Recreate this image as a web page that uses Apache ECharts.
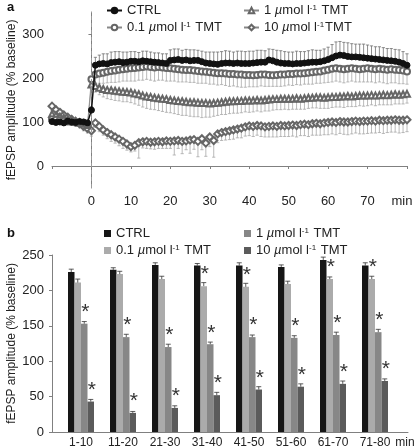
<!DOCTYPE html>
<html><head><meta charset="utf-8">
<script src="https://cdn.jsdelivr.net/npm/echarts@6/dist/echarts.min.js"></script>
<style>html,body{margin:0;padding:0;background:#fff}#c{width:416px;height:448px}</style>
</head><body><div id="c"></div>
<script>
// ---------- Panel a data (time course, 1-min samples from -10 to 80 min) ----------
const seriesNamesA = ['CTRL', '0.1 µmol l⁻¹ TMT', '1 µmol l⁻¹ TMT', '10 µmol l⁻¹TMT'];
const startMinute = -10;
const ctrlVals = [101,99,100,98,102,100,99,101,100,98, 127,
  229,232,233,232,235,236,237,235,236,238,
  238,237,239,238,237,236,235,234,233,240,
  241,242,240,241,239,240,240,237,234,233,
  232,231,233,234,234,233,234,233,233,233,
  234,235,236,236,241,239,236,234,233,233,
  232,233,233,234,235,236,236,237,239,242,
  246,250,252,251,249,248,248,247,246,245,
  244,243,242,241,240,239,238,236,233,229];
const ctrlErr = [6,5,6,5,6,5,6,5,6,6, 8,
  18,20,22,23,24,24,23,24,23,22,
  22,21,22,23,22,21,22,21,22,24,
  25,24,23,24,25,24,23,24,25,26,
  27,28,27,28,27,26,27,28,27,28,
  27,28,27,26,25,26,27,28,27,26,
  27,28,27,26,27,28,27,26,27,28,
  30,32,31,30,31,30,29,30,31,30,
  29,28,29,28,27,28,27,28,27,26];
const tmt01Vals = [106,105,104,103,101,100,99,98,97,95, 197,
  208,210,212,214,216,217,219,220,221,222,
  223,224,225,226,225,224,225,224,223,222,
  221,220,219,218,218,217,216,215,214,213,
  212,211,211,210,209,209,208,208,207,207,
  206,207,208,208,207,206,207,208,208,209,
  209,210,210,211,212,213,214,215,217,219,
  221,222,221,220,221,222,221,220,221,222,
  221,220,221,220,219,220,219,218,217,215];
const tmt01Err = [6,7,6,7,6,7,6,7,6,7, 10,
  20,22,24,25,26,27,28,27,28,29,
  30,29,30,29,30,31,30,29,30,29,
  28,29,28,27,28,27,28,27,26,27,
  26,27,26,27,28,27,28,29,28,27,
  26,27,26,27,26,25,26,27,26,25,
  26,25,26,25,26,27,26,27,28,29,
  30,29,30,31,30,29,30,29,30,31,
  30,31,30,31,32,31,30,31,30,29];
const tmt1Vals = [118,115,112,110,107,105,102,99,96,93, 185,
  182,178,175,173,172,171,170,169,168,167,
  165,163,160,158,157,155,154,153,152,150,
  149,148,147,146,145,145,144,143,143,142,
  143,144,145,146,147,147,148,148,149,149,
  149,150,149,150,151,152,152,153,153,153,
  153,154,153,154,155,155,156,156,155,156,
  157,157,158,158,159,158,159,160,160,160,
  161,160,161,162,161,162,163,162,163,164];
const tmt1Err = [8,7,8,7,8,7,8,7,8,8, 10,
  14,16,18,20,21,22,22,23,22,23,
  24,25,26,27,28,27,28,29,30,29,
  30,31,32,31,32,33,32,33,32,31,
  30,29,28,29,28,27,28,27,26,27,
  26,25,26,25,26,25,24,25,24,25,
  24,25,24,25,24,23,24,25,24,25,
  24,23,24,25,24,23,24,23,24,23,
  22,23,22,23,22,23,22,21,22,21];
const tmt10Vals = [136,128,122,116,111,106,101,96,90,85, 80,
  98,90,82,76,71,66,61,56,50,44,
  47,53,55,56,54,55,56,55,57,56,
  57,58,56,57,59,60,56,62,52,66,
  58,73,76,78,80,82,84,86,89,91,
  90,92,91,89,90,91,90,92,91,92,
  93,92,94,95,94,96,97,96,98,99,
  100,99,101,100,100,101,102,101,102,102,
  103,102,104,103,104,104,105,104,104,105];
const tmt10Err = [10,9,10,9,10,9,10,9,10,10, 12,
  10,12,12,14,15,14,15,16,14,12,
  13,35,14,16,15,17,16,15,17,16,
  32,18,28,20,30,22,35,25,30,22,
  38,20,18,19,20,21,20,22,21,22,
  23,22,24,23,24,25,24,25,24,25,
  25,26,25,26,27,26,27,26,27,28,
  27,28,27,28,29,28,27,28,29,28,
  28,27,28,29,28,27,28,29,28,27];
const xTicksA = [-10,0,10,20,30,40,50,60,70,80];
const yTicksA = [0,100,200,300];

// ---------- Panel b data (10-min bins) ----------
const binLabels = ['1-10','11-20','21-30','31-40','41-50','51-60','61-70','71-80'];
const seriesNamesB = ['CTRL', '0.1 µmol l⁻¹ TMT', '1 µmol l⁻¹ TMT', '10 µmol l⁻¹ TMT'];
const barCtrl  = [226,229,236,235,235,233,243,235];
const barT01   = [211,223,216,206,205,209,216,216];
const barT1    = [153,134,120,124,134,133,137,141];
const barT10   = [43,27,34,52,60,64,68,72];
const errCtrl  = [4,3,3,3,4,3,4,4];
const errT01   = [5,4,4,5,5,4,3,4];
const errT1    = [3,4,4,3,3,3,4,4];
const errT10   = [3,2,3,4,4,4,4,3];
const sigT01   = [0,0,0,1,1,0,1,1];
const sigT1    = [1,1,1,1,1,1,1,1];
const sigT10   = [1,1,1,1,1,1,1,1];

// ---------- build ----------
const FONT = 'Liberation Sans, Arial, Helvetica, sans-serif';
const TXT = '#222';
const AX = '#808080';
const chart = echarts.init(document.getElementById('c'), null, {renderer: 'canvas'});

const minutes = ctrlVals.map((_, i) => startMinute + i);
const pairs = (vals) => vals.map((v, i) => [minutes[i], v]);
const triples = (vals, errs) => vals.map((v, i) => [minutes[i], v, errs[i]]);

function errSeriesA(name, vals, errs, dir, color) {
  return {
    type: 'custom', name: name, xAxisIndex: 0, yAxisIndex: 0, z: 1, silent: true,
    encode: {x: 0, y: 1},
    data: triples(vals, errs),
    renderItem: function (params, api) {
      const t = api.value(0), v = api.value(1), e = api.value(2);
      const p0 = api.coord([t, v]);
      const p1 = api.coord([t, v + dir * e]);
      const st = {stroke: color, lineWidth: 0.8};
      return {type: 'group', children: [
        {type: 'line', shape: {x1: p0[0], y1: p0[1], x2: p1[0], y2: p1[1]}, style: st},
        {type: 'line', shape: {x1: p1[0] - 1.6, y1: p1[1], x2: p1[0] + 1.6, y2: p1[1]}, style: st}
      ]};
    }
  };
}

function lineSeriesA(name, vals, symbol, size, color, lineColor, lw, z) {
  return {
    type: 'line', name: name, xAxisIndex: 0, yAxisIndex: 0, z: z,
    data: pairs(vals), symbol: symbol, symbolSize: size, showSymbol: true,
    itemStyle: {color: color, borderColor: color, borderWidth: 1},
    lineStyle: {color: lineColor, width: lw},
    emphasis: {disabled: true}
  };
}

const BAR_W = 6.5;
const barColors = ['#161616', '#ababab', '#878787', '#5b5b5b'];
const barVals = [barCtrl, barT01, barT1, barT10];
const barErrs = [errCtrl, errT01, errT1, errT10];
const barSig = [null, sigT01, sigT1, sigT10];

function barSeries(k) {
  const sig = barSig[k];
  return {
    type: 'bar', name: 'b:' + seriesNamesB[k], xAxisIndex: 1, yAxisIndex: 1, z: 2,
    data: barVals[k], barWidth: BAR_W, barGap: '0%',
    itemStyle: {color: barColors[k]},
    emphasis: {disabled: true},
    label: {
      show: !!sig, position: 'top', distance: 1, offset: [1, 0],
      formatter: (p) => (sig && sig[p.dataIndex]) ? '*' : '',
      fontSize: 21, color: '#333', fontFamily: FONT
    }
  };
}

function barErrSeries(k) {
  return {
    type: 'custom', name: 'be' + k, xAxisIndex: 1, yAxisIndex: 1, z: 3, silent: true,
    encode: {x: 0, y: 1},
    data: barVals[k].map((v, i) => [i, v, barErrs[k][i]]),
    renderItem: function (params, api) {
      const i = api.value(0), v = api.value(1), e = api.value(2);
      const p0 = api.coord([i, v]);
      const p1 = api.coord([i, v + e]);
      const x = p0[0] + (k - 1.5) * BAR_W;
      const st = {stroke: '#333', lineWidth: 0.8};
      return {type: 'group', children: [
        {type: 'line', shape: {x1: x, y1: p0[1], x2: x, y2: p1[1]}, style: st},
        {type: 'line', shape: {x1: x - 2.5, y1: p1[1], x2: x + 2.5, y2: p1[1]}, style: st}
      ]};
    }
  };
}

const richA = {
  i: {fontStyle: 'italic', fontSize: 13, fontFamily: FONT, color: TXT},
  sup: {fontSize: 8, verticalAlign: 'top', fontFamily: FONT, color: TXT, padding: [0, 1, 0, 0]}
};
const fmtLegend = (name) => name.replace(/^b:/, '').replace('µ', '{i|µ}').replace('⁻¹', '{sup|-1}');

const legendBase = {
  orient: 'vertical', itemGap: 4, selectedMode: false,
  textStyle: {fontSize: 13, fontFamily: FONT, color: TXT, rich: richA},
  formatter: fmtLegend
};
const richMinA = {m: {fontSize: 13, color: TXT, fontFamily: FONT, padding: [0, 10, 0, 0]}};
const richMinB = {m: {fontSize: 12, color: TXT, fontFamily: FONT, padding: [0, 6, 0, 0]}};
const yNameCommon = {
  name: 'fEPSP amplitude (% baseline)', nameLocation: 'middle', nameGap: 34, nameMoveOverlap: false,
  nameTextStyle: {fontSize: 12, color: TXT, fontFamily: FONT}
};

const option = {
  animation: false,
  backgroundColor: '#fff',
  textStyle: {fontFamily: FONT},
  title: [
    {text: 'a', left: 2, top: -4, textStyle: {fontSize: 13, fontWeight: 'bold', color: '#111', fontFamily: FONT}},
    {text: 'b', left: 2, top: 222, textStyle: {fontSize: 13, fontWeight: 'bold', color: '#111', fontFamily: FONT}}
  ],
  legend: [
    Object.assign({}, legendBase, {left: 101, top: -1, itemWidth: 15, itemHeight: 7, data: [seriesNamesA[0], seriesNamesA[1]]}),
    Object.assign({}, legendBase, {left: 238, top: -1, itemWidth: 15, itemHeight: 7, data: [seriesNamesA[2], seriesNamesA[3]]}),
    Object.assign({}, legendBase, {left: 99, top: 222, icon: 'rect', itemWidth: 7, itemHeight: 7, data: ['b:' + seriesNamesB[0], 'b:' + seriesNamesB[1]]}),
    Object.assign({}, legendBase, {left: 239, top: 222, icon: 'rect', itemWidth: 7, itemHeight: 7, data: ['b:' + seriesNamesB[2], 'b:' + seriesNamesB[3]]})
  ],
  grid: [
    {left: 52, top: 12, width: 355, height: 176, outerBoundsMode: 'none', containLabel: false},
    {left: 60, top: 255, width: 336, height: 177, outerBoundsMode: 'none', containLabel: false},
    {left: 52, top: 255, width: 356, height: 177, outerBoundsMode: 'none', containLabel: false}
  ],
  xAxis: [
    {gridIndex: 0, type: 'value', min: -10, max: 80, interval: 10,
      axisLine: {show: true, lineStyle: {color: AX}},
      axisTick: {show: true, length: 3, lineStyle: {color: AX}},
      splitLine: {show: false},
      axisLabel: {fontSize: 13, color: TXT, margin: 7, fontFamily: FONT, rich: richMinA,
        formatter: (v) => v === xTicksA[0] ? '' : (v === xTicksA[xTicksA.length - 1] ? '{m|min}' : String(v))}},
    {gridIndex: 1, type: 'category', data: binLabels,
      axisLine: {show: false}, axisTick: {show: false}, splitLine: {show: false},
      axisLabel: {fontSize: 12, color: TXT, margin: 5, fontFamily: FONT, interval: 0}},
    {gridIndex: 2, type: 'value', min: 0, max: 1, interval: 1,
      axisLine: {show: true, lineStyle: {color: AX}}, axisTick: {show: false}, splitLine: {show: false},
      axisLabel: {fontSize: 12, color: TXT, margin: 5, fontFamily: FONT, rich: richMinB,
        formatter: (v) => v === 1 ? '{m|min}' : ''}}
  ],
  yAxis: [
    Object.assign({gridIndex: 0, type: 'value', min: -50, max: 350,
      axisLine: {show: true, lineStyle: {color: AX}},
      axisTick: {show: true, length: 3, lineStyle: {color: AX}, customValues: yTicksA},
      splitLine: {show: false},
      axisLabel: {fontSize: 13, color: TXT, margin: 8, fontFamily: FONT, customValues: yTicksA}}, yNameCommon),
    Object.assign({gridIndex: 1, type: 'value', min: 0, max: 250, interval: 50, offset: 8,
      axisLine: {show: true, lineStyle: {color: AX}},
      axisTick: {show: true, length: 3, lineStyle: {color: AX}},
      splitLine: {show: false},
      axisLabel: {fontSize: 13, color: TXT, margin: 8, fontFamily: FONT}}, yNameCommon),
    {gridIndex: 2, type: 'value', min: 0, max: 1, show: false}
  ],
  series: [
    errSeriesA('eCTRL', ctrlVals, ctrlErr, 1, '#707070'),
    errSeriesA('e01', tmt01Vals, tmt01Err, -1, '#a8a8a8'),
    errSeriesA('e1', tmt1Vals, tmt1Err, -1, '#a8a8a8'),
    errSeriesA('e10', tmt10Vals, tmt10Err, -1, '#a8a8a8'),
    lineSeriesA(seriesNamesA[3], tmt10Vals, 'emptyDiamond', 7, '#666', '#888', 0.8, 3),
    lineSeriesA(seriesNamesA[2], tmt1Vals, 'emptyTriangle', 6, '#666', '#888', 0.8, 3),
    lineSeriesA(seriesNamesA[1], tmt01Vals, 'emptyCircle', 6, '#666', '#888', 0.8, 4),
    Object.assign(lineSeriesA(seriesNamesA[0], ctrlVals, 'circle', 6, '#111', '#111', 1.5, 5), {
      markLine: {silent: true, symbol: 'none', label: {show: false},
        lineStyle: {color: '#999', type: [4, 3], width: 1},
        data: [{xAxis: 0}]}
    }),
    barSeries(0), barSeries(1), barSeries(2), barSeries(3),
    barErrSeries(0), barErrSeries(1), barErrSeries(2), barErrSeries(3)
  ]
};
chart.setOption(option);
</script>
</body></html>
